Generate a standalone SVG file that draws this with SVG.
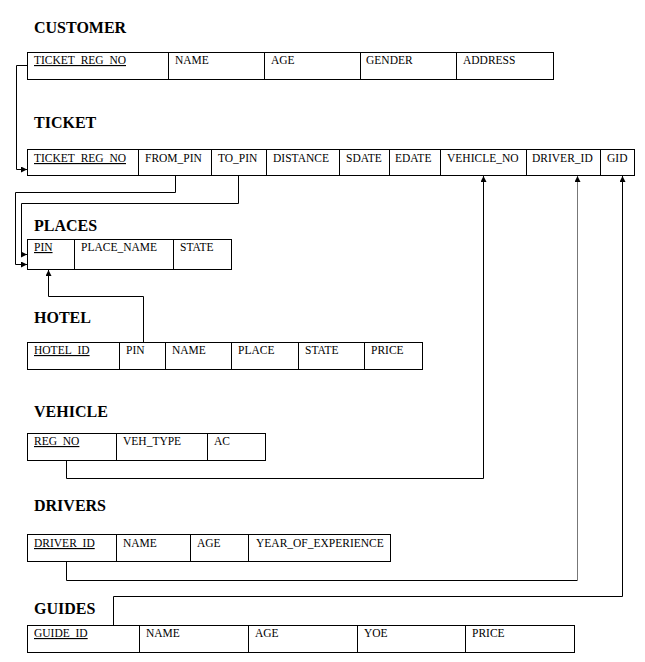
<svg xmlns="http://www.w3.org/2000/svg" width="645" height="662" viewBox="0 0 645 662">
<style>
.bg{fill:#fff}
.tbl{fill:#fff;stroke:#000;stroke-width:1}
.div{stroke:#000;stroke-width:1}
.title{font-family:"Liberation Serif","Times New Roman",serif;font-size:16px;font-weight:bold;fill:#000}
.cell{font-family:"Liberation Serif","Times New Roman",serif;font-size:11.5px;fill:#000}
.key{text-decoration:underline}
.conn{fill:none;stroke:#000;stroke-width:1}
.grey{stroke:#777}
</style>
<defs>
<marker id="arr" markerUnits="userSpaceOnUse" markerWidth="7" markerHeight="7" refX="6" refY="3" orient="auto">
<path d="M0,0 L6,3 L0,6 Z" fill="#000"/>
</marker>
</defs>
<rect class="bg" x="0" y="0" width="645" height="662"/>

<g id="customer">
<text class="title" x="34" y="33">CUSTOMER</text>
<rect class="tbl" x="27.5" y="52.5" width="526" height="27"/>
<path class="div" d="M168.5,52.5V79.5M264.5,52.5V79.5M360.5,52.5V79.5M456.5,52.5V79.5"/>
<text class="cell key" x="34" y="64">TICKET_REG_NO</text>
<text class="cell" x="175" y="64">NAME</text>
<text class="cell" x="271" y="64">AGE</text>
<text class="cell" x="366" y="64">GENDER</text>
<text class="cell" x="463" y="64">ADDRESS</text>
</g>

<g id="ticket">
<text class="title" x="34" y="128">TICKET</text>
<rect class="tbl" x="27.5" y="149.5" width="607" height="26"/>
<path class="div" d="M138.5,149.5V175.5M211.5,149.5V175.5M266.5,149.5V175.5M339.5,149.5V175.5M389.5,149.5V175.5M440.5,149.5V175.5M526.5,149.5V175.5M600.5,149.5V175.5"/>
<text class="cell key" x="34" y="162">TICKET_REG_NO</text>
<text class="cell" x="145" y="162">FROM_PIN</text>
<text class="cell" x="218" y="162">TO_PIN</text>
<text class="cell" x="273" y="162">DISTANCE</text>
<text class="cell" x="346" y="162">SDATE</text>
<text class="cell" x="395" y="162">EDATE</text>
<text class="cell" x="447" y="162">VEHICLE_NO</text>
<text class="cell" x="532" y="162">DRIVER_ID</text>
<text class="cell" x="607" y="162">GID</text>
</g>

<g id="places">
<text class="title" x="34" y="231">PLACES</text>
<rect class="tbl" x="27.5" y="239.5" width="204" height="30"/>
<path class="div" d="M74.5,239.5V269.5M173.5,239.5V269.5"/>
<text class="cell key" x="34" y="251">PIN</text>
<text class="cell" x="81" y="251">PLACE_NAME</text>
<text class="cell" x="180" y="251">STATE</text>
</g>

<g id="hotel">
<text class="title" x="34" y="323">HOTEL</text>
<rect class="tbl" x="27.5" y="342.5" width="395" height="27"/>
<path class="div" d="M119.5,342.5V369.5M165.5,342.5V369.5M231.5,342.5V369.5M298.5,342.5V369.5M364.5,342.5V369.5"/>
<text class="cell key" x="34" y="354">HOTEL_ID</text>
<text class="cell" x="126" y="354">PIN</text>
<text class="cell" x="172" y="354">NAME</text>
<text class="cell" x="238" y="354">PLACE</text>
<text class="cell" x="305" y="354">STATE</text>
<text class="cell" x="371" y="354">PRICE</text>
</g>

<g id="vehicle">
<text class="title" x="34" y="417">VEHICLE</text>
<rect class="tbl" x="27.5" y="433.5" width="238" height="27"/>
<path class="div" d="M116.5,433.5V460.5M207.5,433.5V460.5"/>
<text class="cell key" x="34" y="445">REG_NO</text>
<text class="cell" x="123" y="445">VEH_TYPE</text>
<text class="cell" x="214" y="445">AC</text>
</g>

<g id="drivers">
<text class="title" x="34" y="511">DRIVERS</text>
<rect class="tbl" x="27.5" y="534.5" width="363" height="27"/>
<path class="div" d="M116.5,534.5V561.5M190.5,534.5V561.5M248.5,534.5V561.5"/>
<text class="cell key" x="34" y="547">DRIVER_ID</text>
<text class="cell" x="123" y="547">NAME</text>
<text class="cell" x="197" y="547">AGE</text>
<text class="cell" x="256" y="547">YEAR_OF_EXPERIENCE</text>
</g>

<g id="guides">
<text class="title" x="34" y="614">GUIDES</text>
<rect class="tbl" x="27.5" y="625.5" width="547" height="27"/>
<path class="div" d="M139.5,625.5V652.5M248.5,625.5V652.5M357.5,625.5V652.5M465.5,625.5V652.5"/>
<text class="cell key" x="34" y="637">GUIDE_ID</text>
<text class="cell" x="146" y="637">NAME</text>
<text class="cell" x="255" y="637">AGE</text>
<text class="cell" x="364" y="637">YOE</text>
<text class="cell" x="472" y="637">PRICE</text>
</g>

<g id="connectors">
<path class="conn" d="M27.5,65.5H16.5V169.5H27" marker-end="url(#arr)"/>
<path class="conn" d="M175.5,176V192.5H15.5V264.5H27" marker-end="url(#arr)"/>
<path class="conn" d="M238.5,176V203.5H21.5V254.5H27" marker-end="url(#arr)"/>
<path class="conn" d="M143.5,342V296.5H48.5V270" marker-end="url(#arr)"/>
<path class="conn" d="M66.5,461V478.5H483.5V176" marker-end="url(#arr)"/>
<path class="conn" d="M66.5,562V580.5H577.5"/>
<path class="conn grey" d="M577.5,580.5V176" marker-end="url(#arr)"/>
<path class="conn" d="M113.5,625V596.5H622.5V176" marker-end="url(#arr)"/>
</g>
</svg>
